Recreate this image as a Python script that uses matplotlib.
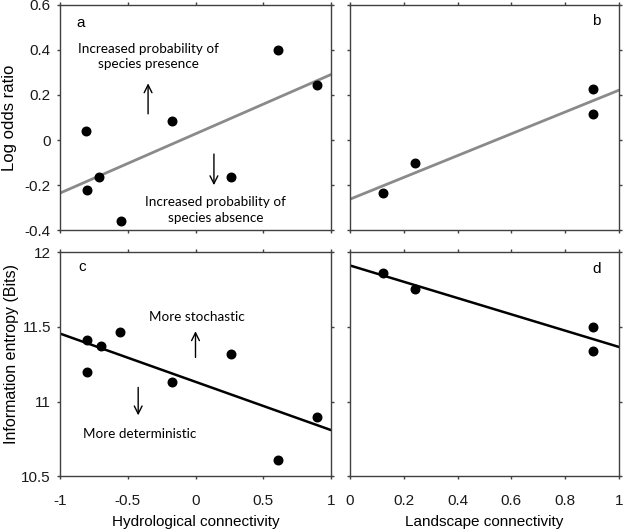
import matplotlib
matplotlib.use('Agg')
import matplotlib.pyplot as plt
import numpy as np

# hydrological connectivity panels (a, c)
hydro_x = [-0.81, -0.80, -0.71, -0.55, -0.175, 0.26, 0.61, 0.895]
log_odds_hydro = [0.04, -0.224, -0.164, -0.358, 0.085, -0.164, 0.40, 0.243]
hydro_x_c = [-0.80, -0.80, -0.70, -0.56, -0.175, 0.26, 0.61, 0.90]
entropy_hydro = [11.41, 11.196, 11.373, 11.467, 11.134, 11.32, 10.61, 10.895]
fit_a = [-0.236, 0.291]   # line values at x=-1 and x=1
fit_c = [11.455, 10.81]

# landscape connectivity panels (b, d)
land_x = [0.124, 0.243, 0.906, 0.906]
log_odds_land = [-0.236, -0.103, 0.225, 0.116]
entropy_land = [11.862, 11.754, 11.502, 11.339]
fit_b = [-0.263, 0.221]   # at x=0 and x=1
fit_d = [11.91, 11.366]

plt.rcParams['font.family'] = ['Liberation Sans', 'DejaVu Sans']
ann_font = 'Lato'
fs = 11
ann_fs = 9.7

fig = plt.figure(figsize=(6.25, 5.3), dpi=100)
ax_a = fig.add_axes([0.096, 0.566, 0.4336, 0.4246])
ax_b = fig.add_axes([0.560, 0.566, 0.430, 0.4246])
ax_c = fig.add_axes([0.096, 0.101, 0.4336, 0.4235])
ax_d = fig.add_axes([0.560, 0.101, 0.430, 0.4235])

for ax in [ax_a, ax_b, ax_c, ax_d]:
    for s in ax.spines.values():
        s.set_color('#404040')
        s.set_linewidth(1.0)
    ax.tick_params(direction='out', length=2.5, width=1, color='#404040',
                   top=True, right=True, labelsize=fs, labelcolor='#1a1a1a')
    ax.tick_params(axis='y', pad=4)
    ax.tick_params(axis='x', pad=10)

# panel a
ax_a.plot([-1, 1], fit_a, color='#8a8a8a', lw=2)
ax_a.scatter(hydro_x, log_odds_hydro, s=38, color='black', zorder=3)
ax_a.set_xlim(-1, 1)
ax_a.set_ylim(-0.4, 0.6)
ax_a.set_xticks([-1, -0.5, 0, 0.5, 1])
ax_a.set_xticklabels([])
ax_a.set_yticks([-0.4, -0.2, 0, 0.2, 0.4, 0.6])
ax_a.set_yticklabels(['-0.4', '-0.2', '0', '0.2', '0.4', '0.6'])
ax_a.set_ylabel('Log odds ratio', fontsize=12, labelpad=6)
ax_a.text(-0.85, 0.52, 'a', fontsize=11, ha='center', va='center')
ax_a.text(-0.345, 0.37, 'Increased probability of\nspecies presence', fontsize=ann_fs,
          family=ann_font, ha='center', va='center', linespacing=1.35)
ax_a.annotate('', xy=(-0.35, 0.264), xytext=(-0.35, 0.104),
              arrowprops=dict(arrowstyle='->', color='black', lw=1, mutation_scale=14))
ax_a.annotate('', xy=(0.136, -0.213), xytext=(0.136, -0.05),
              arrowprops=dict(arrowstyle='->', color='black', lw=1, mutation_scale=14))
ax_a.text(0.146, -0.31, 'Increased probability of\nspecies absence', fontsize=ann_fs,
          family=ann_font, ha='center', va='center', linespacing=1.35)

# panel b
ax_b.plot([0, 1], fit_b, color='#8a8a8a', lw=2)
ax_b.scatter(land_x, log_odds_land, s=38, color='black', zorder=3)
ax_b.set_xlim(0, 1)
ax_b.set_ylim(-0.4, 0.6)
ax_b.set_xticks([0, 0.2, 0.4, 0.6, 0.8, 1])
ax_b.set_xticklabels([])
ax_b.set_yticks([-0.4, -0.2, 0, 0.2, 0.4, 0.6])
ax_b.set_yticklabels([])
ax_b.text(0.916, 0.528, 'b', fontsize=11, ha='center', va='center')

# panel c
ax_c.plot([-1, 1], fit_c, color='black', lw=1.8)
ax_c.scatter(hydro_x_c, entropy_hydro, s=38, color='black', zorder=3)
ax_c.set_xlim(-1, 1)
ax_c.set_ylim(10.5, 12)
ax_c.set_xticks([-1, -0.5, 0, 0.5, 1])
ax_c.set_xticklabels(['-1', '-0.5', '0', '0.5', '1'])
ax_c.set_yticks([10.5, 11, 11.5, 12])
ax_c.set_yticklabels(['10.5', '11', '11.5', '12'])
ax_c.set_xlabel('Hydrological connectivity', fontsize=fs, labelpad=5)
ax_c.set_ylabel('Information entropy (Bits)', fontsize=11.5, labelpad=2)
ax_c.yaxis.label.set_y(0.545)
ax_c.text(-0.836, 11.90, 'c', fontsize=11, ha='center', va='center')
ax_c.text(0.013, 11.567, 'More stochastic', fontsize=ann_fs, family=ann_font,
          ha='center', va='center')
ax_c.annotate('', xy=(0.0, 11.489), xytext=(0.0, 11.277),
              arrowprops=dict(arrowstyle='->', color='black', lw=1, mutation_scale=14))
ax_c.annotate('', xy=(-0.423, 10.89), xytext=(-0.423, 11.114),
              arrowprops=dict(arrowstyle='->', color='black', lw=1, mutation_scale=14))
ax_c.text(-0.41, 10.786, 'More deterministic', fontsize=ann_fs, family=ann_font,
          ha='center', va='center')

# panel d
ax_d.plot([0, 1], fit_d, color='black', lw=1.8)
ax_d.scatter(land_x, entropy_land, s=38, color='black', zorder=3)
ax_d.set_xlim(0, 1)
ax_d.set_ylim(10.5, 12)
ax_d.set_xticks([0, 0.2, 0.4, 0.6, 0.8, 1])
ax_d.set_xticklabels(['0', '0.2', '0.4', '0.6', '0.8', '1'])
ax_d.set_yticks([10.5, 11, 11.5, 12])
ax_d.set_yticklabels([])
ax_d.set_xlabel('Landscape connectivity', fontsize=fs, labelpad=5)
ax_d.text(0.918, 11.888, 'd', fontsize=11, ha='center', va='center')

fig.savefig('out.png', dpi=100)
